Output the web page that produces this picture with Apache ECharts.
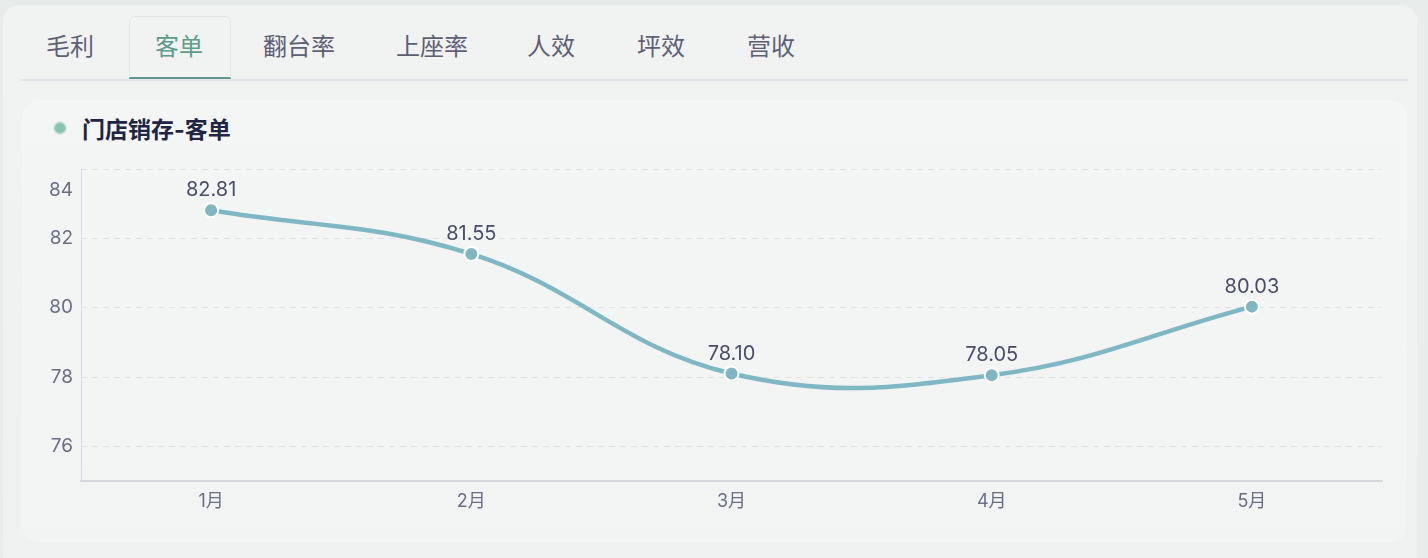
<!DOCTYPE html>
<html><head><meta charset="utf-8">
<script src="https://cdn.jsdelivr.net/npm/echarts@6/dist/echarts.min.js"></script>
<style>
html,body{margin:0;padding:0;width:1428px;height:558px;overflow:hidden;background:#e8ecea;font-family:Inter,"Noto Sans CJK SC",sans-serif;}
#panel{position:absolute;left:3px;top:5px;width:1414px;height:570px;border-radius:16px;background:linear-gradient(180deg,#f1f3f2,#eef1f0);}
.tab{position:absolute;top:16px;height:62px;line-height:62px;font-size:24px;color:#5d6075;white-space:nowrap;}
#tabbox{position:absolute;left:129px;top:16px;width:102px;height:62px;border:1px solid rgba(200,205,210,0.35);border-bottom:none;border-radius:6px 6px 0 0;box-sizing:border-box;}
#tabline{position:absolute;left:129px;top:77px;width:102px;height:3px;background:#5f9787;border-radius:2px;}
#sep{position:absolute;left:20px;top:79px;width:1388px;height:2px;background:#e3e6eb;}
#card{position:absolute;left:22px;top:100px;width:1385px;height:443px;border-radius:18px;background:linear-gradient(180deg,#f4f6f5,#f1f4f3);}
#title{position:absolute;left:82px;top:115px;font-size:23px;font-weight:bold;color:#1f2443;line-height:30px;white-space:nowrap;}
#dot{position:absolute;left:53px;top:121px;width:14px;height:14px;border-radius:50%;background:radial-gradient(circle,#86c3ad 0,#86c3ad 45%,rgba(134,195,173,0.35) 60%,rgba(134,195,173,0) 100%);}
#chart{position:absolute;left:0;top:0;width:1428px;height:558px;}
</style></head>
<body>
<div id="panel"></div>
<div id="tabbox"></div>
<div class="tab" style="left:46px">毛利</div>
<div class="tab" style="left:155px;color:#5f9b8a">客单</div>
<div class="tab" style="left:263px">翻台率</div>
<div class="tab" style="left:396px">上座率</div>
<div class="tab" style="left:527px">人效</div>
<div class="tab" style="left:637px">坪效</div>
<div class="tab" style="left:747px">营收</div>
<div id="tabline"></div>
<div id="sep"></div>
<div id="card"></div>
<div id="dot"></div>
<div id="title">门店销存-客单</div>
<div id="chart"></div>
<script>
const categories = ['1月','2月','3月','4月','5月'];
const values = [82.81, 81.55, 78.10, 78.05, 80.03];
const yMin = 75, yMax = 84;
const tension = 0.4;

function splinePath(pts){
  // cardinal-style spline through the projected data points
  const cps = pts.map(function(p, i){
    const prev = pts[i-1] || p, next = pts[i+1] || p;
    const d01 = Math.hypot(p[0]-prev[0], p[1]-prev[1]);
    const d12 = Math.hypot(next[0]-p[0], next[1]-p[1]);
    let s01 = d01/(d01+d12), s12 = d12/(d01+d12);
    if (isNaN(s01)) s01 = 0; if (isNaN(s12)) s12 = 0;
    const fa = tension*s01, fb = tension*s12;
    return {
      prev:[p[0]-fa*(next[0]-prev[0]), p[1]-fa*(next[1]-prev[1])],
      next:[p[0]+fb*(next[0]-prev[0]), p[1]+fb*(next[1]-prev[1])]
    };
  });
  let d = 'M' + pts[0][0] + ' ' + pts[0][1];
  for (let i = 1; i < pts.length; i++) {
    const a = cps[i-1].next, b = cps[i].prev, p = pts[i];
    d += ' C' + a[0] + ' ' + a[1] + ' ' + b[0] + ' ' + b[1] + ' ' + p[0] + ' ' + p[1];
  }
  return d;
}

const chart = echarts.init(document.getElementById('chart'), null, {renderer:'canvas'});
chart.setOption({
  backgroundColor:'transparent',
  animation:false,
  grid:{left:81, right:46, top:169, bottom:77, containLabel:false},
  xAxis:{
    type:'category', data:categories, boundaryGap:true,
    axisLine:{show:true, lineStyle:{color:'#d4d7de', width:2}},
    axisTick:{show:false},
    axisLabel:{color:'#6a6d85', fontSize:18, margin:12, fontFamily:'Inter, "Noto Sans CJK SC", sans-serif'}
  },
  yAxis:{
    type:'value', min:yMin, max:yMax,
    axisLine:{show:true, lineStyle:{color:'#d9dce2', width:1}},
    axisTick:{show:false},
    splitLine:{show:true, lineStyle:{color:'#e0e3e6', type:[6,5], width:1}},
    axisLabel:{color:'#6a6d85', fontSize:19, margin:8, showMinLabel:false,
      fontFamily:'Inter, sans-serif',
      formatter:function(v){ return v===yMax ? '{mx|'+v+'}' : String(v); },
      rich:{mx:{fontSize:19, color:'#6a6d85', padding:[42,0,0,0], fontFamily:'Inter, sans-serif'}}
    }
  },
  series:[{
    type:'custom', z:1, silent:true, clip:false,
    data:values.map(function(v,i){ return [i, v]; }),
    renderItem:function(params, api){
      if (params.dataIndex !== 0) return null;
      const pts = values.map(function(v,i){ return api.coord([i, v]); });
      return {type:'path', shape:{pathData:splinePath(pts)},
        style:{fill:'none', stroke:'#80b7c4', lineWidth:4.5, lineCap:'round', lineJoin:'round'}};
    }
  },{
    type:'line', z:3, data:values, smooth:false,
    symbol:'circle', symbolSize:14,
    lineStyle:{opacity:0, width:0},
    itemStyle:{color:'#7fb6c2', borderColor:'#ffffff', borderWidth:2},
    label:{show:true, position:'top', distance:2, color:'#4a4d69', fontSize:20,
      fontFamily:'Inter, sans-serif',
      formatter:function(p){ return p.value.toFixed(2); }}
  }]
});
</script>
</body></html>
